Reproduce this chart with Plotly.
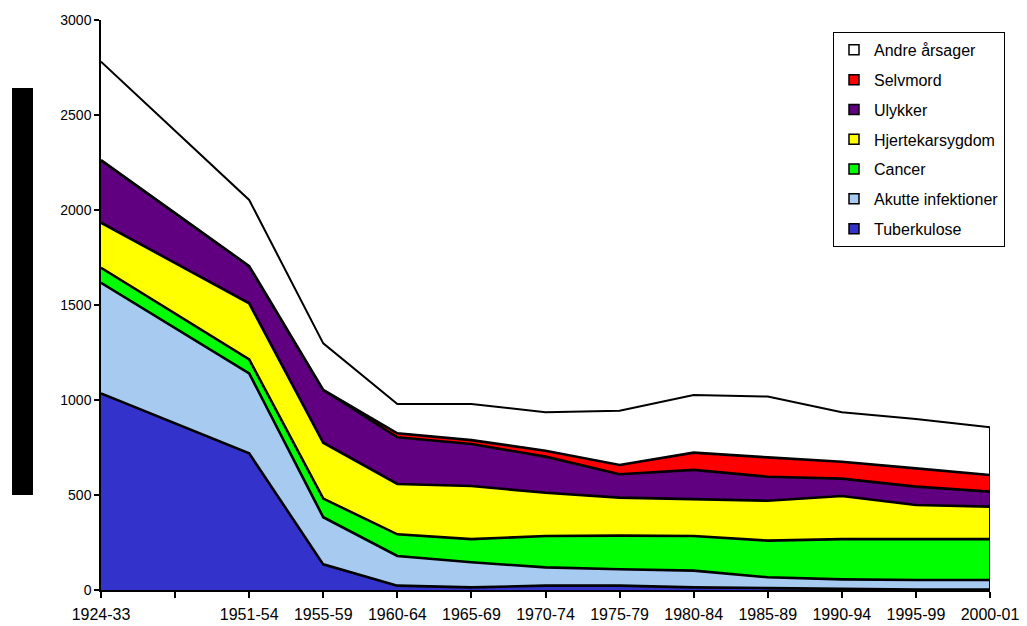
import plotly.graph_objects as go

# Periods; the second slot is an unlabeled gap on the axis
periods = ["1924-33", "", "1951-54", "1955-59", "1960-64", "1965-69", "1970-74",
           "1975-79", "1980-84", "1985-89", "1990-94", "1995-99", "2000-01"]
# Positions that carry data (the gap slot has none)
data_idx = [0, 2, 3, 4, 5, 6, 7, 8, 9, 10, 11, 12]

tuberkulose = [1035, 719, 135, 23, 14, 23, 23, 14, 10, 5, 2, 2]
akutte = [582, 421, 248, 156, 132, 96, 86, 88, 57, 51, 51, 51]
cancer = [79, 74, 98, 114, 122, 165, 177, 182, 193, 212, 215, 215]
hjerte = [237, 295, 294, 265, 279, 228, 200, 195, 210, 227, 179, 171]
ulykker = [330, 196, 278, 246, 221, 190, 123, 153, 126, 91, 97, 79]
selvmord = [0, 0, 0, 21, 21, 31, 49, 91, 102, 89, 96, 87]
andre = [518, 348, 245, 154, 190, 202, 286, 303, 320, 260, 260, 251]

series = [
    ("Tuberkulose", tuberkulose, "#3333CC", 2.6),
    ("Akutte infektioner", akutte, "#A6CAF0", 2.6),
    ("Cancer", cancer, "#00FF00", 2.6),
    ("Hjertekarsygdom", hjerte, "#FFFF00", 2.6),
    ("Ulykker", ulykker, "#600080", 2.6),
    ("Selvmord", selvmord, "#FF0000", 2.6),
    ("Andre årsager", andre, "#FFFFFF", 2),
]

fig = go.Figure()

for name, vals, color, lw in series:
    fig.add_trace(go.Scatter(
        x=data_idx, y=vals, name=name, mode="lines",
        stackgroup="one", fillcolor=color,
        line=dict(color="black", width=lw),
        showlegend=False, hoverinfo="skip",
    ))

# Closing edge on the right side of the stack
last_total = sum(s[1][-1] for s in series)
fig.add_trace(go.Scatter(
    x=[data_idx[-1], data_idx[-1]], y=[0, last_total], mode="lines",
    line=dict(color="black", width=2), showlegend=False, hoverinfo="skip",
))

# Legend entries as small squares, top category first
for i, (name, vals, color, lw) in enumerate(reversed(series)):
    fig.add_trace(go.Scatter(
        x=[None], y=[None], name=name, mode="markers",
        marker=dict(symbol="square", size=10, color=color,
                    line=dict(color="black", width=1.5)),
        legendgroup=f"g{i}", showlegend=True,
    ))

fig.update_layout(
    width=1027, height=626,
    margin=dict(l=101, r=37, t=20, b=36, autoexpand=False),
    paper_bgcolor="white", plot_bgcolor="white",
    font=dict(family="Liberation Sans, Arial, sans-serif", size=14, color="black"),
    showlegend=True,
    legend=dict(
        x=0.8234, y=0.979, xanchor="left", yanchor="top",
        bgcolor="white", bordercolor="black", borderwidth=1,
        font=dict(size=16), tracegroupgap=6, traceorder="grouped",
        itemwidth=30, entrywidth=130, entrywidthmode="pixels",
    ),
    xaxis=dict(
        range=[0, 12], tickmode="array", tickvals=list(range(len(periods))),
        ticktext=periods, showgrid=False, zeroline=False, automargin=False,
        showline=True, linecolor="black", linewidth=2,
        ticks="outside", ticklen=6, tickcolor="black", tickwidth=1.5,
        tickfont=dict(size=16), ticklabelstandoff=3,
    ),
    yaxis=dict(
        range=[0, 3000], tickmode="array", tickvals=[0, 500, 1000, 1500, 2000, 2500, 3000],
        showgrid=False, zeroline=False, automargin=False,
        showline=True, linecolor="black", linewidth=1.5,
        ticks="outside", ticklen=5, tickcolor="black", tickwidth=1.5,
        tickfont=dict(size=14),
    ),
    shapes=[dict(
        type="rect", xref="paper", yref="paper",
        x0=-0.1001, x1=-0.0765, y0=0.1667, y1=0.8807,
        fillcolor="black", line=dict(width=0),
    )],
)

fig.write_html("out.html")
